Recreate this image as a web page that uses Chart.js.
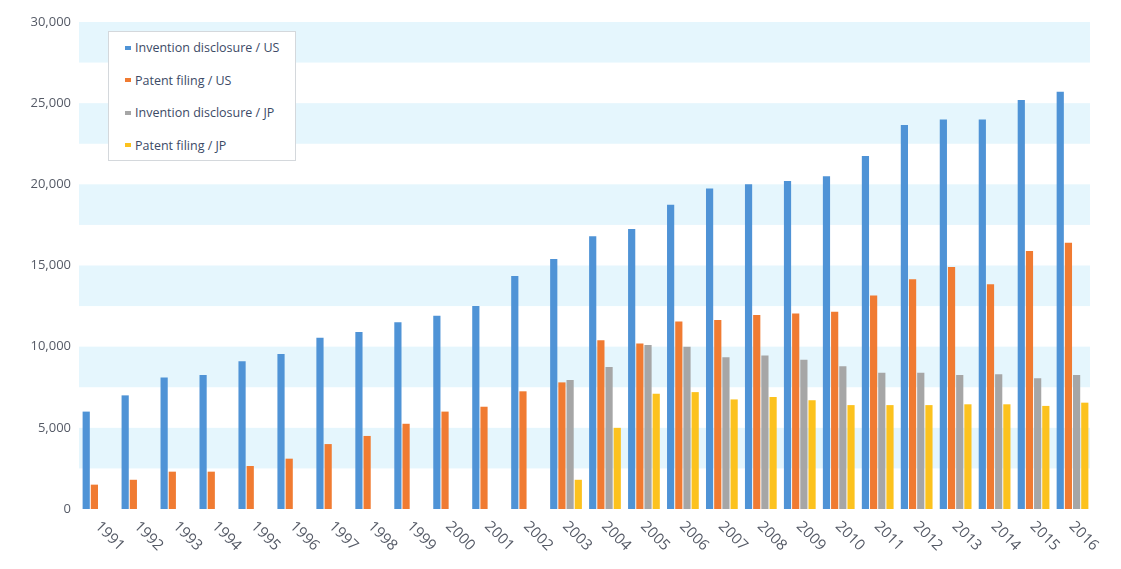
<!DOCTYPE html>
<html>
<head>
<meta charset="utf-8">
<script src="https://cdn.jsdelivr.net/npm/chart.js@4"></script>
<style>
  html, body { margin: 0; padding: 0; background: #fff; }
  #wrap { position: relative; width: 1121px; height: 569px; }
  #legend {
    position: absolute; left: 108px; top: 31px; width: 188px; height: 130px;
    background: #fff; border: 1px solid #d4d8dc; box-sizing: border-box;
    font-family: "Open Sans", "Noto Sans", sans-serif; font-size: 12.5px; color: #3c4a66;
    padding-top: 7px;
  }
  #legend div { height: 32.5px; line-height: 18px; padding-left: 16px; white-space: nowrap; }
  #legend span { display: inline-block; width: 6px; height: 4px; margin-right: 4px; vertical-align: middle; position: relative; top: -1px; }
</style>
</head>
<body>
<div id="wrap">
  <canvas id="c" width="1121" height="569"></canvas>
  <div id="legend"></div>
</div>
<script>
const years = ['1991','1992','1993','1994','1995','1996','1997','1998','1999','2000','2001','2002','2003',
  '2004','2005','2006','2007','2008','2009','2010','2011','2012','2013','2014','2015','2016'];

const disclosureUS = [6000, 7000, 8100, 8250, 9100, 9550, 10550, 10900, 11500, 11900, 12500, 14350, 15400,
  16800, 17250, 18750, 19750, 20000, 20200, 20500, 21750, 23650, 24000, 24000, 25200, 25700];
const filingUS = [1500, 1800, 2300, 2300, 2650, 3100, 4000, 4500, 5250, 6000, 6300, 7250, 7800,
  10400, 10200, 11550, 11650, 11950, 12050, 12150, 13150, 14150, 14900, 13850, 15900, 16400];
const disclosureJP = [null, null, null, null, null, null, null, null, null, null, null, null, 7950,
  8750, 10100, 10000, 9350, 9450, 9200, 8800, 8400, 8400, 8250, 8300, 8050, 8250];
const filingJP = [null, null, null, null, null, null, null, null, null, null, null, null, 1800,
  5000, 7100, 7200, 6750, 6900, 6700, 6400, 6400, 6400, 6450, 6450, 6350, 6550];

const yTicks = [0, 5000, 10000, 15000, 20000, 25000, 30000];

const seriesNames = ['Invention disclosure / US', 'Patent filing / US', 'Invention disclosure / JP', 'Patent filing / JP'];
const seriesColors = ['#4f93d6', '#f07b32', '#a6a6a6', '#fcc21e'];
const seriesData = [disclosureUS, filingUS, disclosureJP, filingJP];

// html legend
const legendEl = document.getElementById('legend');
seriesNames.forEach(function(name, i) {
  const row = document.createElement('div');
  const sw = document.createElement('span');
  sw.style.background = seriesColors[i];
  row.appendChild(sw);
  row.appendChild(document.createTextNode(name));
  legendEl.appendChild(row);
});

// light blue bands every other 2500
const bandsPlugin = {
  id: 'bands',
  beforeDatasetsDraw(chart) {
    const ctx = chart.ctx;
    const y = chart.scales.y;
    const area = chart.chartArea;
    ctx.save();
    ctx.fillStyle = '#e5f6fd';
    for (let v = 5000; v <= 30000; v += 5000) {
      const top = y.getPixelForValue(v);
      const bot = y.getPixelForValue(v - 2500);
      ctx.fillRect(area.left, top, area.right - area.left - 2, bot - top);
    }
    ctx.restore();
  }
};

// x labels slanted downward to the right
const xLabelsPlugin = {
  id: 'xLabels',
  afterDraw(chart) {
    const ctx = chart.ctx;
    const x = chart.scales.x;
    const area = chart.chartArea;
    ctx.save();
    ctx.font = '15px "Open Sans", "Noto Sans", sans-serif';
    ctx.fillStyle = '#555a66';
    ctx.textAlign = 'left';
    ctx.textBaseline = 'middle';
    years.forEach(function(lbl, i) {
      const px = x.getPixelForValue(i);
      ctx.save();
      ctx.translate(px - 1, area.bottom + 15);
      ctx.rotate(Math.PI / 4);
      ctx.fillText(lbl, 0, 0);
      ctx.restore();
    });
    ctx.restore();
  }
};

new Chart(document.getElementById('c'), {
  type: 'bar',
  data: {
    labels: years,
    datasets: seriesData.map(function(d, i) {
      return {
        label: seriesNames[i],
        data: d,
        backgroundColor: seriesColors[i],
        borderWidth: 0,
        categoryPercentage: 0.84,
        barPercentage: 0.88
      };
    })
  },
  options: {
    responsive: false,
    animation: false,
    layout: { padding: { top: 22, right: 29, left: 0, bottom: 0 } },
    plugins: {
      legend: { display: false },
      tooltip: { enabled: false }
    },
    scales: {
      x: {
        grid: { display: false },
        border: { display: false },
        ticks: { display: false },
        afterFit: function(s) { s.height = 60; }
      },
      y: {
        min: 0,
        max: 30000,
        grid: { display: false, drawTicks: false },
        border: { display: false },
        afterBuildTicks: function(s) { s.ticks = yTicks.map(function(v) { return { value: v }; }); },
        ticks: {
          padding: 8,
          color: '#555a66',
          font: { family: '"Open Sans", "Noto Sans", sans-serif', size: 13 },
          callback: function(v) { return v.toLocaleString('en-US'); }
        },
        afterFit: function(s) { s.width = 79; }
      }
    }
  },
  plugins: [bandsPlugin, xLabelsPlugin]
});
</script>
</body>
</html>
